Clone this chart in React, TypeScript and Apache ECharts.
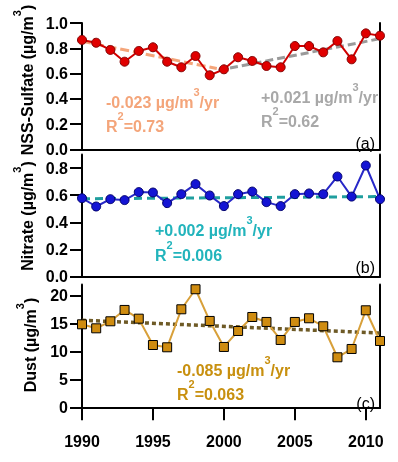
import React, { useEffect, useRef } from "react";
import * as echarts from "echarts";

const years = [1990, 1991, 1992, 1993, 1994, 1995, 1996, 1997, 1998, 1999, 2000, 2001, 2002, 2003, 2004, 2005, 2006, 2007, 2008, 2009, 2010, 2011];
const sulfate = [0.866, 0.844, 0.787, 0.694, 0.779, 0.808, 0.694, 0.65, 0.739, 0.587, 0.634, 0.729, 0.7, 0.66, 0.65, 0.818, 0.818, 0.768, 0.858, 0.713, 0.918, 0.9];
const nitrate = [0.578, 0.517, 0.571, 0.564, 0.623, 0.62, 0.542, 0.608, 0.682, 0.598, 0.52, 0.608, 0.627, 0.549, 0.52, 0.608, 0.613, 0.608, 0.738, 0.59, 0.819, 0.571];
const dust = [14.87, 14.15, 15.41, 17.44, 15.88, 11.16, 10.75, 17.56, 21.15, 15.47, 10.81, 13.67, 16.18, 15.29, 12.06, 15.29, 15.95, 14.52, 8.96, 10.45, 17.38, 11.88];

const sulfateTrend1: [number, number][] = [[1990, 0.855], [1999.5, 0.64]];
const sulfateTrend2: [number, number][] = [[1999.6, 0.626], [2011, 0.876]];
const nitrateTrend: [number, number][] = [[1990, 0.574], [2011, 0.59]];
const dustTrend: [number, number][] = [[1990, 15.6], [2011, 13.3]];

const xTicks = [1990, 1995, 2000, 2005, 2010];
const sulfateTicks = [0, 0.2, 0.4, 0.6, 0.8, 1.0];
const nitrateTicks = [0, 0.2, 0.4, 0.6, 0.8];
const dustTicks = [0, 5, 10, 15, 20];

const FONT = "'Liberation Sans', Arial, sans-serif";

export default function App() {
  const ref = useRef<HTMLDivElement>(null);
  useEffect(() => {
    if (!ref.current) return;
    const chart = echarts.init(ref.current, undefined, { renderer: "svg" });
    const L = 82, W = 298;
    const grids = [
      { left: L, top: 23, width: W, height: 126.5 },
      { left: L, top: 154.5, width: W, height: 122.2 },
      { left: L, top: 284.5, width: W, height: 122.8 },
    ];
    const lineStyle = { color: "#000", width: 2 };
    const hiddenX = (gi: number, offset: number) => ({
      type: "value", gridIndex: gi, min: 1990, max: 2011, position: "top", offset,
      axisLine: { show: true, lineStyle }, axisTick: { show: false }, axisLabel: { show: false }, splitLine: { show: false },
    });
    const leftY = (gi: number, max: number, ticks: number[], dec: number) => ({
      type: "value", gridIndex: gi, min: 0, max, position: "left",
      axisLine: { show: true, lineStyle },
      axisTick: { show: true, length: 12, lineStyle, customValues: ticks },
      axisLabel: {
        show: true, margin: 14, fontSize: 16, fontWeight: "bold", fontFamily: FONT, color: "#000",
        customValues: ticks, formatter: (v: number) => v.toFixed(dec),
      },
      splitLine: { show: false },
    });
    const rightY = (gi: number, max: number) => ({
      type: "value", gridIndex: gi, min: 0, max, position: "right",
      axisLine: { show: true, lineStyle }, axisTick: { show: false }, axisLabel: { show: false }, splitLine: { show: false },
    });
    const supRich = (color: string) => ({
      a: { fontSize: 16, fontWeight: "bold", fontFamily: FONT, fill: color, color, lineHeight: 32 },
      s: { fontSize: 11, fontWeight: "bold", fontFamily: FONT, fill: color, color, lineHeight: 11, verticalAlign: "top" },
    });
    const annot = (x: number, y: number, text: string, color: string) => ({
      type: "text", x, y, silent: true,
      style: { text, rich: supRich(color), align: "left", verticalAlign: "middle", fill: color },
    });
    const title = (x: number, y: number, text: string) => ({
      type: "text", x, y, rotation: Math.PI / 2, silent: true,
      style: { text, rich: supRich("#000"), align: "center", verticalAlign: "middle", fill: "#000" },
    });
    const label = (y: number, text: string) => ({
      type: "text", x: 375, y, silent: true,
      style: { text, fontSize: 16, fontFamily: FONT, fill: "#000", align: "right", verticalAlign: "middle" },
    });
    const pts = (arr: number[]) => years.map((y, i) => [y, arr[i]]);
    const trend = (xi: number, yi: number, data: [number, number][], color: string, type: any, width: number) => ({
      type: "line", xAxisIndex: xi, yAxisIndex: yi, data, symbol: "none", z: 1,
      lineStyle: { color, width, type },
    });

    chart.setOption({
      animation: false,
      grid: grids,
      xAxis: [
        hiddenX(0, 6.5),
        hiddenX(1, 0),
        {
          type: "value", gridIndex: 2, min: 1990, max: 2011, position: "bottom", offset: 6,
          axisLine: { show: true, lineStyle },
          axisTick: { show: true, length: 13, lineStyle, customValues: xTicks },
          axisLabel: {
            show: true, margin: 20, fontSize: 16, fontWeight: "bold", fontFamily: FONT, color: "#000",
            customValues: xTicks, formatter: (v: number) => String(v),
          },
          splitLine: { show: false },
        },
        hiddenX(2, 5),
      ],
      yAxis: [
        leftY(0, 1.0, sulfateTicks, 1),
        rightY(0, 1.0),
        leftY(1, 0.9, nitrateTicks, 1),
        rightY(1, 0.9),
        leftY(2, 22, dustTicks, 0),
        rightY(2, 22),
      ],
      series: [
        trend(0, 0, sulfateTrend1, "#f4a57a", [9, 4], 3),
        trend(0, 0, sulfateTrend2, "#9a9a9a", [8, 4], 3),
        {
          type: "line", xAxisIndex: 0, yAxisIndex: 0, data: pts(sulfate), symbol: "circle", symbolSize: 9, z: 3,
          itemStyle: { color: "#e00000", borderColor: "#800000", borderWidth: 1 },
          lineStyle: { color: "#d00000", width: 2 },
        },
        trend(1, 2, nitrateTrend, "#1f9e9e", [8, 5], 3),
        {
          type: "line", xAxisIndex: 1, yAxisIndex: 2, data: pts(nitrate), symbol: "circle", symbolSize: 9, z: 3,
          itemStyle: { color: "#1414d4", borderColor: "#00006a", borderWidth: 1 },
          lineStyle: { color: "#2828c8", width: 2 },
        },
        trend(2, 4, dustTrend, "#6e5a26", [4, 3], 3.5),
        {
          type: "line", xAxisIndex: 2, yAxisIndex: 4, data: pts(dust), symbol: "rect", symbolSize: 9, z: 3,
          itemStyle: { color: "#cf8c10", borderColor: "#000", borderWidth: 1 },
          lineStyle: { color: "#d8a03a", width: 2 },
        },
      ],
      graphic: [
        title(27, 80, "{a|NSS-Sulfate (µg/m}{s|3}{a|)}"),
        title(27, 216, "{a|Nitrate (µg/m}{s|3}{a|)}"),
        title(30, 345, "{a|Dust (µg/m}{s|3}{a|)}"),
        annot(106, 102, "{a|-0.023 µg/m}{s|3}{a|/yr}", "#f4a57a"),
        annot(106, 126, "{a|R}{s|2}{a|=0.73}", "#f4a57a"),
        annot(261, 97, "{a|+0.021 µg/m}{s|3}{a|/yr}", "#a8a8a8"),
        annot(261, 121, "{a|R}{s|2}{a|=0.62}", "#a8a8a8"),
        annot(155, 230, "{a|+0.002 µg/m}{s|3}{a|/yr}", "#22b4bc"),
        annot(155, 255, "{a|R}{s|2}{a|=0.006}", "#22b4bc"),
        annot(177, 370, "{a|-0.085 µg/m}{s|3}{a|/yr}", "#c8900f"),
        annot(177, 394, "{a|R}{s|2}{a|=0.063}", "#c8900f"),
        label(143, "(a)"),
        label(267, "(b)"),
        label(403, "(c)"),
      ],
    });
    return () => chart.dispose();
  }, []);
  return <div ref={ref} style={{ position: "fixed", left: 0, top: 0, width: 398, height: 462 }} />;
}
